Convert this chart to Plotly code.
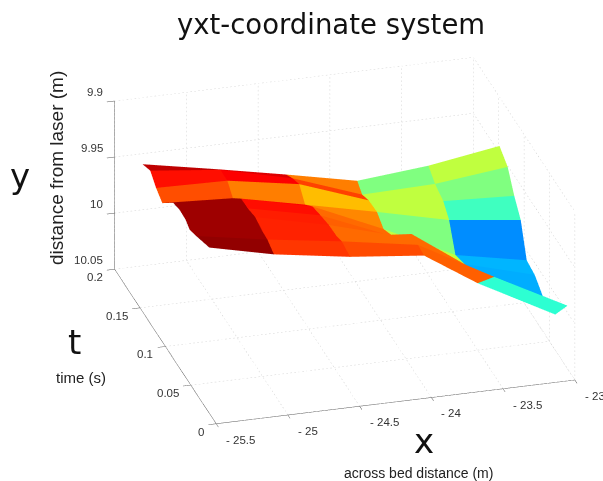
import plotly.graph_objects as go

# time at each node, one row per time step (back to front)
T = [[0.17, 0.17, 0.17, 0.17, 0.17, 0.1481],
     [0.155, 0.155, 0.155, 0.155, 0.155, 0.132],
     [0.141, 0.141, 0.141, 0.141, 0.141, 0.1191],
     [0.127, 0.127, 0.127, 0.127, 0.127, 0.1063],
     [0.112, 0.112, 0.112, 0.112, 0.112, 0.0946],
     [0.098, 0.098, 0.098, 0.098, 0.098, 0.0789],
     [0.083, 0.083, 0.083, 0.083, 0.083, 0.0707],
     [0.069, 0.069, 0.069, 0.069, 0.069, 0.0628],
     [0.054, 0.054, 0.054, 0.054, 0.054, 0.0142],
     [0.04, 0.04, 0.04, 0.04, 0.04, 0.0383]]
# across-bed distance at each node
X = [[-25.411, -24.873, -24.411, -23.915, -23.419, -23.001],
     [-25.411, -24.922, -24.419, -23.934, -23.426, -23.001],
     [-25.42, -24.923, -24.422, -23.938, -23.418, -23.001],
     [-25.426, -24.934, -24.431, -23.93, -23.427, -23.001],
     [-25.403, -24.93, -24.433, -23.937, -23.436, -23.001],
     [-25.407, -24.933, -24.426, -23.918, -23.421, -23.001],
     [-25.419, -24.934, -24.421, -23.925, -23.417, -23.001],
     [-25.441, -24.933, -24.414, -23.894, -23.405, -23.001],
     [-25.448, -24.952, -24.433, -23.902, -23.371, -23.001],
     [-25.406, -24.956, -24.425, -23.91, -23.536, -23.001]]
# distance from laser at each node
Y = [[9.9371, 9.9501, 9.9619, 9.9752, 9.9695, 9.9433],
     [9.9325, 9.9394, 9.9548, 9.9769, 9.9753, 9.9509],
     [9.9381, 9.9394, 9.9503, 9.9723, 9.9811, 9.9678],
     [9.9419, 9.9452, 9.9588, 9.9731, 9.9882, 9.9806],
     [9.9317, 9.9353, 9.95, 9.9779, 10.0089, 10.0084],
     [9.9284, 9.9343, 9.9484, 9.9752, 10.0076, 10.0105],
     [9.9266, 9.9318, 9.9468, 9.9646, 10.0016, 10.0145],
     [9.9253, 9.9349, 9.9476, 9.9534, 9.997, 10.0186],
     [9.9206, 9.9315, 9.9412, 9.9526, 9.9894, 9.9935],
     [9.9219, 9.935, 9.9455, 9.9524, 9.9829, 10.018]]
# colour value of each facet (jet scale 0..1)
C = [[0.937, 0.906, 0.75, 0.5, 0.5625],
     [0.859, 0.875, 0.81, 0.5625, 0.5],
     [0.797, 0.75, 0.6875, 0.5625, 0.4375],
     [0.969, 0.875, 0.74, 0.5, 0.266],
     [0.969, 0.86, 0.77, 0.5625, 0.305],
     [0.969, 0.845, 0.78, 0.76, 0.297],
     [0.969, 0.84, 0.77, 0.77, 0.297],
     [0.969, 0.84, 0.77, 0.77, 0.29],
     [0.98, 0.82, 0.8, 0.78, 0.42]]

x_ticks = [-25.5, -25, -24.5, -24, -23.5, -23]
x_text = ["- 25.5", "- 25", "- 24.5", "- 24", "- 23.5", "- 23"]
t_ticks = [0, 0.05, 0.1, 0.15, 0.2]
t_text = ["0", "0.05", "0.1", "0.15", "0.2"]
y_ticks = [9.9, 9.95, 10, 10.05]
y_text = ["9.9", "9.95", "10", "10.05"]

JET = [[0, "#00008f"], [0.125, "#0000ff"], [0.375, "#00ffff"],
       [0.625, "#ffff00"], [0.875, "#ff0000"], [1, "#800000"]]

nr, nc = len(T), len(X[0])
vx, vy, vz = [], [], []
for r in range(nr):
    for c in range(nc):
        vx.append(X[r][c]); vy.append(T[r][c]); vz.append(Y[r][c])
I, J, K, cell = [], [], [], []
for r in range(nr - 1):
    for c in range(nc - 1):
        a = r * nc + c; b = a + 1; d = a + nc; e = d + 1
        I += [a, b]; J += [b, e]; K += [d, d]
        cell += [C[r][c], C[r][c]]

fig = go.Figure()
fig.add_trace(go.Mesh3d(x=vx, y=vy, z=vz, i=I, j=J, k=K, intensity=cell,
                        intensitymode="cell", colorscale=JET, cmin=0, cmax=1,
                        showscale=False, flatshading=True, hoverinfo="skip",
                        lighting=dict(ambient=1, diffuse=0, specular=0, fresnel=0, roughness=1)))

# dotted grid on the floor and the two back walls (short pieces give fine dots)
gx, gy, gz = [], [], []
def seg(p, q, n):
    for k in range(n):
        f0 = k / n; f1 = (k + 0.4) / n
        gx.extend([p[0] + (q[0] - p[0]) * f0, p[0] + (q[0] - p[0]) * f1, None])
        gy.extend([p[1] + (q[1] - p[1]) * f0, p[1] + (q[1] - p[1]) * f1, None])
        gz.extend([p[2] + (q[2] - p[2]) * f0, p[2] + (q[2] - p[2]) * f1, None])
xa, xb = x_ticks[0], x_ticks[-1]
ta, tb = t_ticks[0], t_ticks[-1]
ya, yb = y_ticks[0], y_ticks[-1]
for v in x_ticks:
    seg((v, ta, yb), (v, tb, yb), 47); seg((v, tb, yb), (v, tb, ya), 42)
for v in t_ticks:
    seg((xa, v, yb), (xb, v, yb), 90); seg((xb, v, yb), (xb, v, ya), 42)
for v in y_ticks:
    seg((xa, tb, v), (xb, tb, v), 90); seg((xb, tb, v), (xb, ta, v), 47)
fig.add_trace(go.Scatter3d(x=gx, y=gy, z=gz, mode="lines", hoverinfo="skip", showlegend=False,
                           connectgaps=False, line=dict(color="#d2d2d2", width=1)))

tick_font = dict(family="Liberation Sans", size=11.5, color="#333333")
labels = []
for v, s in zip(x_ticks, x_text):
    labels.append(dict(x=v, y=ta, z=yb, text=s, showarrow=False, xanchor="left", yanchor="middle",
                       xshift=8, yshift=-16, font=tick_font))
for v, s in zip(t_ticks, t_text):
    labels.append(dict(x=xa, y=v, z=yb, text=s, showarrow=False, xanchor="right", yanchor="middle",
                       xshift=-10, yshift=-8, font=tick_font))
for v, s in zip(y_ticks, y_text):
    labels.append(dict(x=xa, y=tb, z=v, text=s, showarrow=False, xanchor="right", yanchor="middle",
                       xshift=-10, yshift=9, font=tick_font))

common = dict(showgrid=False, zeroline=False, showbackground=False, showspikes=False,
              showline=True, linecolor="#555555", linewidth=1, ticks="outside",
              tickcolor="#555555", ticklen=8, showticklabels=False, title="")
d = (-0.2459, -0.8685, 0.431); R = 2.0
cen = (-0.173, 0.049, 0.0)
fig.update_layout(
    width=603, height=481, paper_bgcolor="white", margin=dict(l=0, r=0, t=0, b=0),
    showlegend=False,
    scene=dict(
        domain=dict(x=[0, 1], y=[0, 1]),
        xaxis=dict(range=[xa, xb], tickvals=x_ticks, **common),
        yaxis=dict(range=[ta, tb], tickvals=t_ticks, **common),
        zaxis=dict(range=[yb, ya], tickvals=y_ticks, **common),
        aspectmode="manual", aspectratio=dict(x=1.55, y=1.55, z=0.775),
        annotations=labels,
        camera=dict(projection=dict(type="orthographic"), up=dict(x=0, y=0, z=1),
                    center=dict(x=cen[0], y=cen[1], z=cen[2]),
                    eye=dict(x=cen[0] + d[0] * R, y=cen[1] + d[1] * R, z=cen[2] + d[2] * R)),
    ),
    title=dict(text="yxt-coordinate system", x=0.549, xanchor="center", y=0.95, yanchor="middle",
               font=dict(family="DejaVu Sans", size=27.5, color="#111111")),
)
def note(text, px, py, size, angle=0, family="Liberation Sans", color="#222222"):
    fig.add_annotation(text=text, x=px / 603, y=1 - py / 481, xref="paper", yref="paper",
                       showarrow=False, textangle=angle, xanchor="center", yanchor="middle",
                       font=dict(family=family, size=size, color=color))
note("y", 20, 176, 34, family="DejaVu Sans", color="#111111")
note("t", 74, 342, 34, family="DejaVu Sans", color="#111111")
note("x", 424, 441, 34, family="DejaVu Sans", color="#111111")
note("distance from laser (m)", 56, 168, 19, angle=-90)
note("time (s)", 81, 377, 15)
note("across bed distance (m)", 419, 473, 14)
fig.write_html("out.html", config=dict(displayModeBar=False), post_script="document.body.style.margin='0';")
